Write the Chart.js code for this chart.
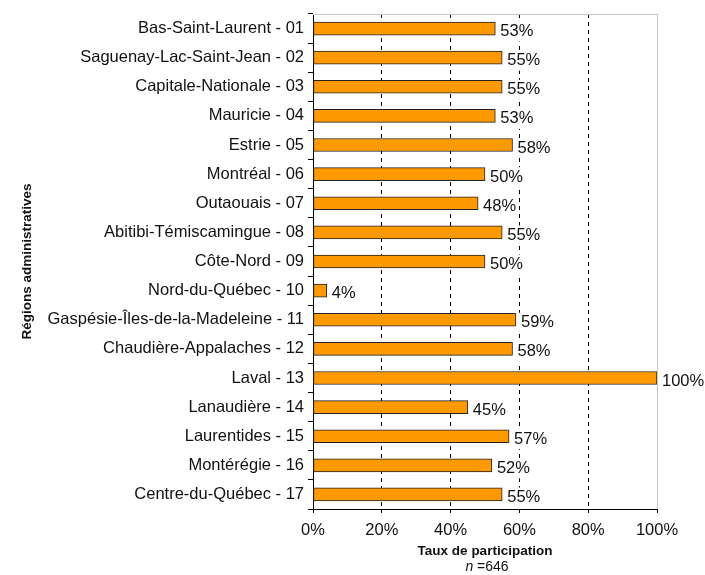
<!DOCTYPE html>
<html>
<head>
<meta charset="utf-8">
<script src="https://cdn.jsdelivr.net/npm/chart.js@4"></script>
<style>
  html, body { margin: 0; padding: 0; background: #fff; }
  #wrap { width: 705px; height: 575px; position: relative; }
</style>
</head>
<body>
<div id="wrap"><canvas id="chart"></canvas></div>
<script>
// données
const regions = [
    'Bas-Saint-Laurent - 01', 'Saguenay-Lac-Saint-Jean - 02', 'Capitale-Nationale - 03',
    'Mauricie - 04', 'Estrie - 05', 'Montréal - 06', 'Outaouais - 07',
    'Abitibi-Témiscamingue - 08', 'Côte-Nord - 09', 'Nord-du-Québec - 10',
    'Gaspésie-Îles-de-la-Madeleine - 11', 'Chaudière-Appalaches - 12', 'Laval - 13',
    'Lanaudière - 14', 'Laurentides - 15', 'Montérégie - 16', 'Centre-du-Québec - 17'
];
const tauxParticipation = [53, 55, 55, 53, 58, 50, 48, 55, 50, 4, 59, 58, 100, 45, 57, 52, 55];
const xTicks = [0, 20, 40, 60, 80, 100];
const xTitle = 'Taux de participation';
const yTitle = 'Régions administratives';
const nLabel = '=646';

const FONT = 'Arial, "Liberation Sans", sans-serif';
const LABEL_SIZE = 16.5;

// étiquettes de valeur au bout des barres (fond blanc qui masque la grille)
const valueLabels = {
    id: 'valueLabels',
    afterDatasetsDraw(chart) {
        const ctx = chart.ctx;
        const meta = chart.getDatasetMeta(0);
        ctx.save();
        ctx.font = LABEL_SIZE + 'px ' + FONT;
        ctx.textAlign = 'left';
        ctx.textBaseline = 'middle';
        meta.data.forEach((bar, i) => {
            const txt = tauxParticipation[i] + '%';
            const w = ctx.measureText(txt).width;
            const x = bar.x + 5;
            const y = bar.y + 3;
            ctx.fillStyle = '#fff';
            ctx.fillRect(x - 2, y - 10, w + 4, 20);
            ctx.fillStyle = '#111';
            ctx.fillText(txt, x, y);
        });
        ctx.restore();
    }
};

// bordure grise haut/droite + ligne "n =646"
const frame = {
    id: 'frame',
    beforeDatasetsDraw(chart) {
        const { ctx, chartArea: a } = chart;
        ctx.save();
        ctx.strokeStyle = '#c8c8c8';
        ctx.lineWidth = 1;
        ctx.beginPath();
        ctx.moveTo(a.left, a.top + 0.5);
        ctx.lineTo(a.right + 0.5, a.top + 0.5);
        ctx.lineTo(a.right + 0.5, a.bottom);
        ctx.stroke();
        ctx.restore();
    },
    afterDraw(chart) {
        const { ctx, chartArea: a } = chart;
        const cx = (a.left + a.right) / 2 + 2;
        ctx.save();
        ctx.fillStyle = '#111';
        ctx.textBaseline = 'middle';
        ctx.font = 'italic 14px ' + FONT;
        const w1 = ctx.measureText('n ').width;
        ctx.font = '14px ' + FONT;
        const w2 = ctx.measureText(nLabel).width;
        const x0 = cx - (w1 + w2) / 2;
        ctx.font = 'italic 14px ' + FONT;
        ctx.fillText('n ', x0, 567);
        ctx.font = '14px ' + FONT;
        ctx.fillText(nLabel, x0 + w1, 567);
        ctx.restore();
    }
};

const ctx = document.getElementById('chart').getContext('2d');
const myChart = new Chart(ctx, {
    type: 'bar',
    data: {
        labels: regions,
        datasets: [{
            data: tauxParticipation,
            backgroundColor: 'rgb(255, 153, 0)',
            borderColor: '#222',
            borderWidth: 1,
            borderSkipped: false,
            barThickness: 13
        }]
    },
    options: {
        indexAxis: 'y',
        responsive: true, maintainAspectRatio: false,
        animation: false,
        layout: { padding: { top: 14, right: 48, bottom: 16, left: 19 } },
        plugins: { legend: { display: false }, tooltip: { enabled: false } },
        scales: {
            x: {
                min: 0, max: 100,
                afterBuildTicks: (scale) => { scale.ticks = xTicks.map(v => ({ value: v })); },
                afterFit: (scale) => { scale.height = 50; },
                ticks: {
                    callback: (v) => v + '%',
                    color: '#111',
                    font: { family: FONT, size: LABEL_SIZE },
                    padding: 8,
                    maxRotation: 0
                },
                grid: {
                    color: (c) => c.tick && c.tick.value === 0 ? 'rgba(0,0,0,0)' : (c.tick && c.tick.value === 100 ? '#999' : '#000'),
                    tickColor: '#000',
                    tickLength: 4,
                    lineWidth: 1
                },
                border: { display: true, color: '#000', width: 1, dash: [4, 4] },
                title: {
                    display: true, text: xTitle,
                    color: '#111',
                    font: { family: FONT, size: 13.5, weight: 'bold' },
                    padding: 0
                }
            },
            y: {
                afterFit: (scale) => { scale.width = 294; },
                ticks: {
                    color: '#111',
                    font: { family: FONT, size: LABEL_SIZE },
                    padding: 4
                },
                grid: {
                    offset: true,
                    drawOnChartArea: false,
                    tickColor: '#000',
                    tickLength: 5
                },
                border: { display: true, color: '#000', width: 1 },
                title: {
                    display: true, text: yTitle,
                    color: '#111',
                    font: { family: FONT, size: 13.5, weight: 'bold' },
                    padding: 0
                }
            }
        }
    },
    plugins: [valueLabels, frame]
});
</script>
</body>
</html>
